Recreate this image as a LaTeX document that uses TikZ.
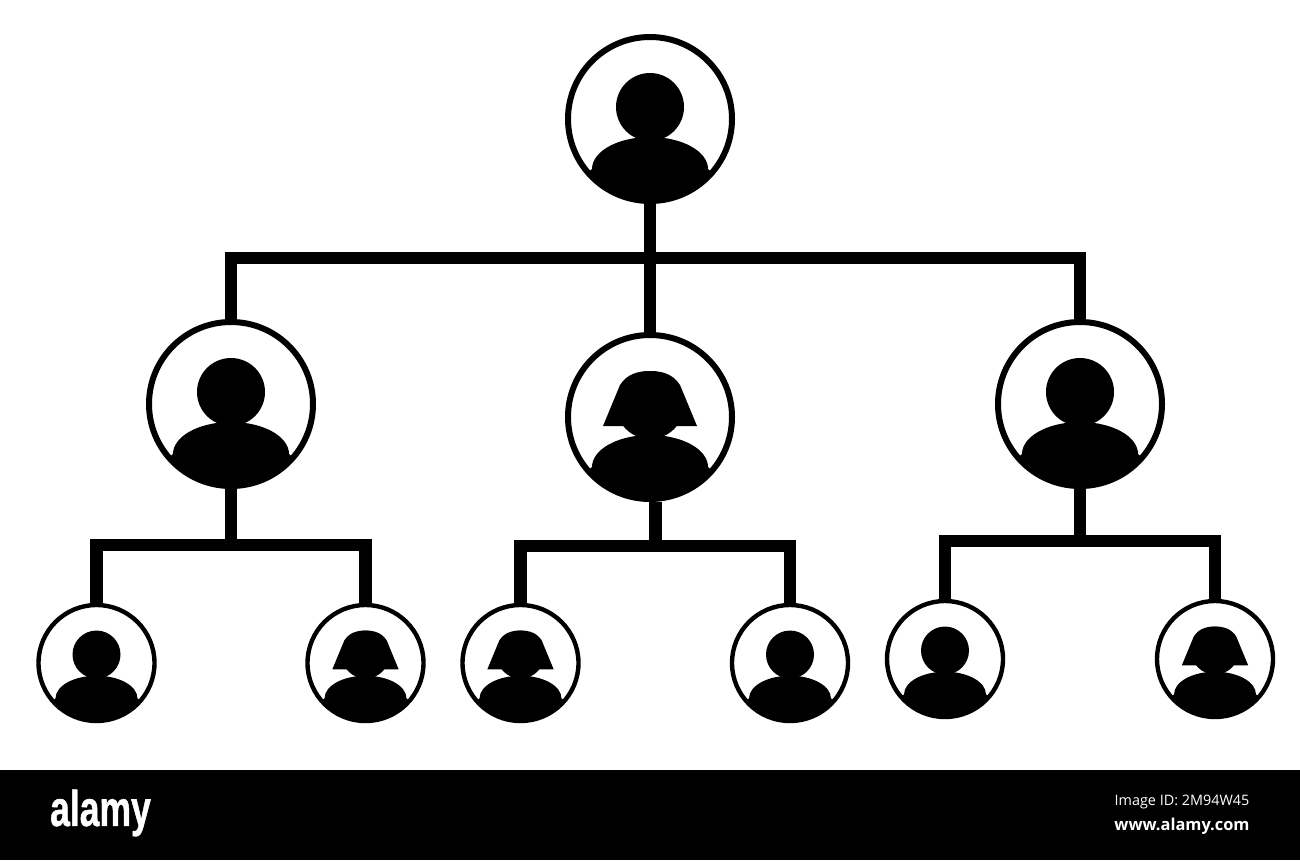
\documentclass[tikz,border=0pt]{standalone}
\usepackage{fontspec}
\setmainfont{Open Sans}
\newfontfamily\logofont[BoldFeatures={FakeBold=1.2}]{Liberation Sans}
\usetikzlibrary{positioning,calc}

\newcommand{\personshape}{
	\fill (0,-12) circle [radius=34];
	\begin{scope}
		\clip (0,0) circle [radius=84];
		\fill (-58,50) arc (180:360:58 and 32) -- (72,62) -- (72,90) -- (-72,90) -- (-72,62) -- cycle;
	\end{scope}
}

\tikzset{
	big/.style={circle,draw,line width=6pt,minimum size=164pt,inner sep=0pt},
	small/.style={circle,draw,line width=4.4pt,minimum size=116pt,inner sep=0pt},
	conn/.style={line width=12.5pt,line join=miter},
	man/.pic={\personshape},
	woman/.pic={
		\personshape
		\fill (-47,9) -- (-30,-32) .. controls (-23,-43) and (-12,-46) .. (0,-46) .. controls (12,-46) and (23,-43) .. (30,-32) -- (47,9) -- cycle;
	}
}

\begin{document}
\begin{tikzpicture}[x=1pt,y=-1pt]

\useasboundingbox (0,0) rectangle (1300,860);

\node [big] (root) at (650,119) {};

\node [big] (mgrl) at (231,404) {};
\node [big] (mgrm) at (650,417) {};
\node [big] (mgrr) at (1080,404) {};

\node [small] (la) at (96.5,663) {};
\node [small] (lb) at (365.5,663) {};
\node [small] (ma) at (520.5,663) {};
\node [small] (mb) at (790,663) {};
\node [small] (ra) at (945,659) {};
\node [small] (rb) at (1215,659) {};

\coordinate (bus) at (650,258);
\coordinate (busl) at (231,545);
\coordinate (busm) at (655.5,546);
\coordinate (busr) at (1080,541);

\draw [conn]
	(root) -- (mgrm)
	(bus) -| (mgrl.north)
	(bus) -| (mgrr.north)
	(mgrl.south) -- (busl) -| (la.north)
	(busl) -| (lb.north)
	(mgrm.south -| busm) -- (busm) -| (ma.north)
	(busm) -| (mb.north)
	(mgrr.south) -- (busr) -| (ra.north)
	(busr) -| (rb.north)
;

\pic at (root) {man};
\pic at (mgrl) {man};
\pic at (mgrm) {woman};
\pic at (mgrr) {man};
\pic [scale=.706] at (la) {man};
\pic [scale=.706] at (lb) {woman};
\pic [scale=.706] at (ma) {woman};
\pic [scale=.706] at (mb) {man};
\pic [scale=.706] at (ra) {man};
\pic [scale=.706] at (rb) {woman};

% footer
\fill (0,770) rectangle (1300,860);
\node [white,font=\logofont\bfseries\fontsize{50}{50}\selectfont,xscale=.71,inner sep=0pt] (logo) at (100.5,813) {alamy};
\node [white,font=\fontsize{14.4}{15}\selectfont,inner sep=0pt] (imgid) at (1182,802) {Image ID: 2M94W45};
\node [white,font=\bfseries\fontsize{16.4}{17}\selectfont,inner sep=0pt] (site) at (1182,826) {www.alamy.com};

\end{tikzpicture}
\end{document}
